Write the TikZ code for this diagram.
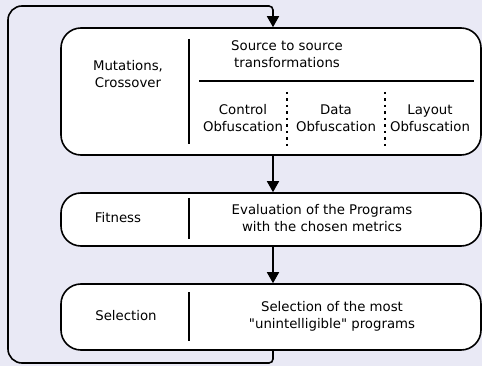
\documentclass[tikz,border=0pt]{standalone}
\usepackage{fontspec}
\setmainfont{DejaVu Sans}[Ligatures=TeXOff]
\usetikzlibrary{arrows.meta}
\definecolor{bg}{RGB}{233,233,245}
\tikzset{
  stage/.style={draw=black, line width=1.6pt, fill=white, rounded corners=20pt, minimum width=420pt, inner sep=0pt},
  sep/.style={line width=1.6pt},
  dotsep/.style={line width=1.6pt, dash pattern=on 2.5pt off 4pt},
  flow/.style={line width=1.6pt, -{Triangle[length=11pt,width=12pt]}},
  txt/.style={align=center, inner sep=0pt, font=\fontsize{13.3}{17}\selectfont}
}
\begin{document}
\begin{tikzpicture}[x=1pt,y=-1pt]
\fill[bg] (0,0) rectangle (482,366);
\useasboundingbox (0,0) rectangle (482,366);
\node[stage, minimum height=127pt] (b1) at (271,91.5) {};
\node[stage, minimum height=53pt] (b2) at (271,219.5) {};
\node[stage, minimum height=66pt] (b3) at (271,317) {};
\coordinate (ax) at (273,0);
\coordinate (lb) at (8,363);
\coordinate (lt) at (8,6);
% box 1 contents
\draw[sep] (189,39) -- (189,144);
\draw[sep] (199,81) -- (474,81);
\draw[dotsep] (287,92) -- (287,146);
\draw[dotsep] (385,92) -- (385,146);
\node[txt] (mut) at (128,74) {Mutations,\\Crossover};
\node[txt] (src) at (287,54) {Source to source\\transformations};
\node[txt] (ctl) at (243,118) {Control\\Obfuscation};
\node[txt] (dat) at (336,118) {Data\\Obfuscation};
\node[txt] (lay) at (430,118) {Layout\\Obfuscation};
% box 2 contents
\draw[sep] (189,198) -- (189,239);
\node[txt] (fit) at (118,218) {Fitness};
\node[txt] (eva) at (322,218) {Evaluation of the Programs\\with the chosen metrics};
% box 3 contents
\draw[sep] (189,292) -- (189,341);
\node[txt] (sel) at (126,316) {Selection};
\node[txt] (sed) at (332,316) {Selection of the most\\"unintelligible" programs};
% connectors
\draw[flow] (b1.south -| ax) -- (b2.north -| ax);
\draw[flow] (b2.south -| ax) -- (b3.north -| ax);
\draw[flow] (b3.south -| ax) [rounded corners=4pt] -- (ax |- lb) [rounded corners=14pt] -- (lb) -- (lt) [rounded corners=4pt] -- (ax |- lt) -- (b1.north -| ax);
\end{tikzpicture}
\end{document}
